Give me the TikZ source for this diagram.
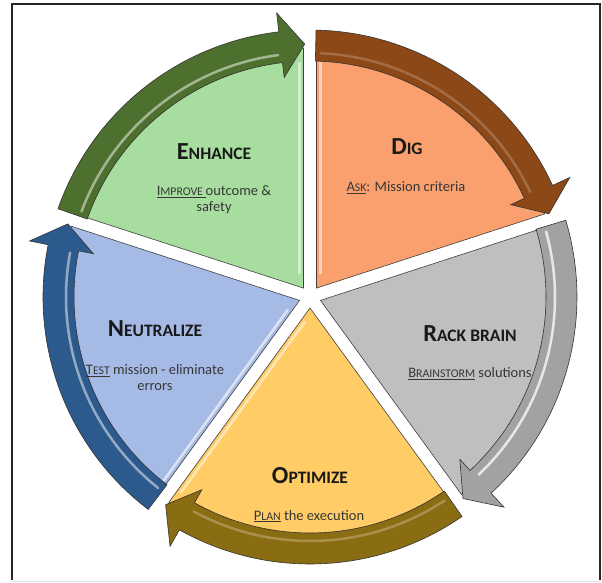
\documentclass[tikz,border=0pt]{standalone}
\usepackage{fontspec}
\setmainfont{Carlito}

\definecolor{enhanceFill}{RGB}{168,221,160}
\definecolor{enhanceArrow}{RGB}{78,112,46}
\definecolor{digFill}{RGB}{250,160,110}
\definecolor{digArrow}{RGB}{140,72,22}
\definecolor{rackFill}{RGB}{191,191,191}
\definecolor{rackArrow}{RGB}{162,162,162}
\definecolor{optFill}{RGB}{255,204,102}
\definecolor{optArrow}{RGB}{138,108,18}
\definecolor{neutFill}{RGB}{166,186,230}
\definecolor{neutArrow}{RGB}{44,90,140}
\definecolor{bodyText}{RGB}{55,55,55}

% fake small caps: big first letter, rest in smaller capitals
\newcommand{\headword}[2]{{\fontsize{24.5}{26}\selectfont\bfseries #1}{\fontsize{17.5}{19}\selectfont\bfseries #2}}
\newcommand{\keyword}[2]{\underline{{\fontsize{14.5}{17}\selectfont #1}{\fontsize{11.8}{17}\selectfont #2}}}

\tikzset{
  sector/.style={draw=black!75, line width=0.6pt},
  band/.style={draw=black!80, line width=0.6pt},
  gloss/.style={line width=2.5pt, line cap=round, opacity=0.75},
  strip/.style={line width=2.5pt, opacity=0.8},
  title/.style={text=black!90, inner sep=0pt},
  caption/.style={text=bodyText, font=\fontsize{14.5}{16}\selectfont, align=center, inner sep=0pt}
}

\begin{document}
\begin{tikzpicture}[x=1pt,y=1pt]

\useasboundingbox (-310,-285) rectangle (292,297);

% frame
\draw[black!85, line width=1.2pt] (-298,-283) -- (-298,293) -- (290,293) -- (290,-283);
\draw[black!12, line width=1pt] (-298,-284) -- (290,-284);

% pie slices, each pushed out along its bisector
\draw[sector, fill=enhanceFill] (126:11) -- ++(162:240) arc[start angle=162, end angle=90, radius=240] -- cycle;
\draw[sector, fill=digFill] (54:11) -- ++(90:240) arc[start angle=90, end angle=18, radius=240] -- cycle;
\draw[sector, fill=rackFill] (-18:11) -- ++(18:240) arc[start angle=18, end angle=-54, radius=240] -- cycle;
\draw[sector, fill=optFill] (-90:11) -- ++(-54:240) arc[start angle=-54, end angle=-126, radius=240] -- cycle;
\draw[sector, fill=neutFill] (198:11) -- ++(234:240) arc[start angle=234, end angle=162, radius=240] -- cycle;

% light bevel strips along the slice edges
\draw[strip, enhanceFill!35!white, shift={(126:11)}, shift={(180:4)}] (90:14) -- (90:226);
\draw[strip, digFill!35!white, shift={(54:11)}, shift={(0:4)}] (90:14) -- (90:226);
\draw[strip, optFill!35!white, shift={(-90:11)}, shift={(324:4)}] (234:14) -- (234:226);
\draw[strip, neutFill!25!white, shift={(198:11)}, shift={(144:4)}] (234:14) -- (234:226);

% curved arrows around the ring
\draw[band, fill=enhanceArrow] (160.7:267) arc[start angle=160.7, end angle=96.7, radius=267] -- (96.7:286) -- (91.2:253) -- (96.7:221) -- (96.7:236) arc[start angle=96.7, end angle=160.7, radius=236] -- cycle;
\draw[gloss, enhanceArrow!35!white] (159.5:244) arc[start angle=159.5, end angle=97.5, radius=244];

\draw[band, fill=digArrow] (88.7:267) arc[start angle=88.7, end angle=24.7, radius=267] -- (24.7:286) -- (19.2:253) -- (24.7:221) -- (24.7:236) arc[start angle=24.7, end angle=88.7, radius=236] -- cycle;
\draw[gloss, digArrow!60!white, opacity=0.5] (87.5:244) arc[start angle=87.5, end angle=25.5, radius=244];

\draw[band, fill=rackArrow] (16.7:267) arc[start angle=16.7, end angle=-47.3, radius=267] -- (-47.3:286) -- (-52.8:253) -- (-47.3:221) -- (-47.3:236) arc[start angle=-47.3, end angle=16.7, radius=236] -- cycle;
\draw[gloss, white] (15.5:245) arc[start angle=15.5, end angle=-46.5, radius=245];

\draw[band, fill=optArrow] (-55.3:267) arc[start angle=-55.3, end angle=-119.3, radius=267] -- (-119.3:286) -- (-124.8:253) -- (-119.3:221) -- (-119.3:236) arc[start angle=-119.3, end angle=-55.3, radius=236] -- cycle;
\draw[gloss, optArrow!50!white, opacity=0.5] (-56.5:244) arc[start angle=-56.5, end angle=-118.5, radius=244];

\draw[band, fill=neutArrow] (232.7:267) arc[start angle=232.7, end angle=168.7, radius=267] -- (168.7:286) -- (163.2:253) -- (168.7:221) -- (168.7:236) arc[start angle=168.7, end angle=232.7, radius=236] -- cycle;
\draw[gloss, neutArrow!35!white] (231.5:244) arc[start angle=231.5, end angle=169.5, radius=244];

% labels
\node[title] (enhance) at (-96,145) {\headword{E}{NHANCE}};
\node[caption] (improve) at (-96,97) {\keyword{I}{MPROVE\ }outcome \&\\ safety};

\node[title] (dig) at (97,150) {\headword{D}{IG}};
\node[caption] (ask) at (96,109) {\keyword{A}{SK}: Mission criteria};

\node[title] (rack) at (160,-37) {\headword{R}{ACK BRAIN}};
\node[caption] (brainstorm) at (160,-77) {\keyword{B}{RAINSTORM} solutions};

\node[title] (optimize) at (0,-179) {\headword{O}{PTIMIZE}};
\node[caption] (plan) at (-1,-219) {\keyword{P}{LAN} the execution};

\node[title] (neutralize) at (-155,-32) {\headword{N}{EUTRALIZE}};
\node[caption] (test) at (-155,-81) {\keyword{T}{EST} mission - eliminate\\ errors};

\end{tikzpicture}
\end{document}
